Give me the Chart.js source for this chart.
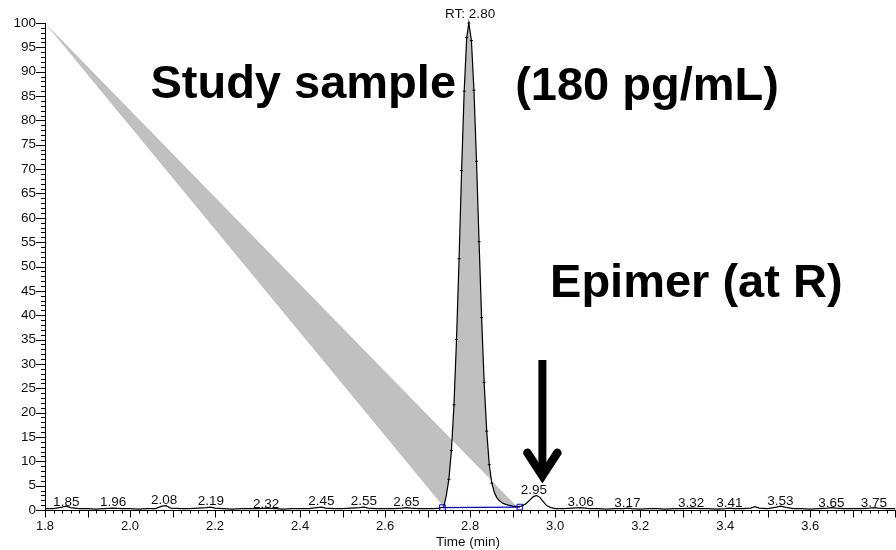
<!DOCTYPE html>
<html>
<head>
<meta charset="utf-8">
<script src="https://cdn.jsdelivr.net/npm/chart.js@4.4.1/dist/chart.umd.min.js"></script>
<style>
  html, body { margin: 0; padding: 0; background: #fff; }
  #wrap { width: 896px; height: 550px; }
</style>
</head>
<body>
<div id="wrap"><canvas id="chrom"></canvas></div>
<script>
// chromatogram trace, time (min) and relative abundance (%)
var times = [
    1.800, 1.820, 1.840, 1.850, 1.860, 1.880, 1.900, 1.920, 1.940, 1.960, 1.980,
    2.000, 2.020, 2.040, 2.060, 2.075, 2.085, 2.095, 2.120, 2.140, 2.160, 2.180,
    2.190, 2.200, 2.220, 2.240, 2.260, 2.280, 2.300, 2.320, 2.340, 2.360, 2.380,
    2.400, 2.420, 2.440, 2.450, 2.460, 2.480, 2.500, 2.520, 2.540, 2.550, 2.560,
    2.580, 2.600, 2.620, 2.640, 2.650, 2.660, 2.680, 2.700, 2.715, 2.727,
    2.738, 2.744, 2.750, 2.756, 2.762, 2.768, 2.774, 2.780, 2.786, 2.792, 2.797,
    2.803, 2.809, 2.815, 2.821, 2.827, 2.833, 2.839, 2.845, 2.851, 2.857, 2.863,
    2.869, 2.875, 2.882, 2.890, 2.900, 2.910, 2.920, 2.930, 2.940, 2.948, 2.956,
    2.964, 2.972, 2.980, 2.990, 3.000,
    3.020, 3.040, 3.060, 3.080, 3.100, 3.120, 3.140, 3.160, 3.170, 3.180, 3.200,
    3.220, 3.240, 3.260, 3.280, 3.300, 3.320, 3.340, 3.360, 3.380, 3.400, 3.410,
    3.420, 3.440, 3.460, 3.470, 3.480, 3.500, 3.520, 3.530, 3.540, 3.560, 3.580,
    3.600, 3.620, 3.640, 3.650, 3.660, 3.680, 3.700, 3.720, 3.740, 3.750, 3.760,
    3.780, 3.800
];
var intensity = [
    0.3, 0.3, 0.6, 0.8, 0.5, 0.3, 0.3, 0.2, 0.3, 0.4, 0.3,
    0.3, 0.2, 0.3, 0.3, 0.8, 0.9, 0.4, 0.3, 0.3, 0.4, 0.5,
    0.6, 0.4, 0.3, 0.2, 0.3, 0.3, 0.3, 0.4, 0.3, 0.2, 0.3,
    0.3, 0.3, 0.5, 0.6, 0.4, 0.3, 0.3, 0.4, 0.5, 0.6, 0.4,
    0.3, 0.3, 0.3, 0.4, 0.5, 0.4, 0.3, 0.3, 0.3, 0.4,
    0.6, 3.0, 6.3, 12.2, 21.6, 35.0, 51.6, 69.7, 86.0, 97.0, 100.0,
    96.4, 86.2, 71.6, 55.1, 39.5, 26.2, 16.2, 9.3, 5.5, 3.6, 2.5,
    1.9, 1.5, 1.2, 1.0, 0.8, 0.7, 0.8, 1.2, 2.0, 2.7, 3.0,
    2.6, 1.7, 0.9, 0.5, 0.3,
    0.3, 0.4, 0.5, 0.3, 0.3, 0.2, 0.3, 0.3, 0.4, 0.3, 0.2,
    0.3, 0.3, 0.2, 0.3, 0.3, 0.4, 0.3, 0.3, 0.2, 0.3, 0.4,
    0.3, 0.3, 0.4, 0.7, 0.4, 0.3, 0.6, 0.8, 0.6, 0.3, 0.3,
    0.2, 0.3, 0.4, 0.5, 0.4, 0.3, 0.3, 0.3, 0.4, 0.5, 0.4,
    0.3, 0.3
];

// integration of the main peak (start / end of the blue baseline)
var baseTimes = [2.735, 2.917];
var baseLevels = [0.5, 0.6];
// odd fill corner the software left at the start of the window
var fillAnchor = [1.8, 100];

// labelled peaks
var peakTimes  = [1.85, 1.96, 2.08, 2.19, 2.32, 2.45, 2.55, 2.65, 2.80, 2.95, 3.06, 3.17, 3.32, 3.41, 3.53, 3.65, 3.75];
var peakLevels = [0.0, -0.1, 0.4, 0.1, -0.4, 0.1, 0.1, 0.0, 100.2, 2.5, -0.1, -0.3, -0.2, -0.2, 0.3, -0.2, -0.2];
var peakTexts  = ["1.85", "1.96", "2.08", "2.19", "2.32", "2.45", "2.55", "2.65", "RT: 2.80", "2.95",
                  "3.06", "3.17", "3.32", "3.41", "3.53", "3.65", "3.75"];

// slide annotations: text, time, level of the baseline
var noteTexts  = ["Study sample", "(180 pg/mL)", "Epimer (at R)"];
var noteTimes  = [2.048, 2.906, 2.988];
var noteLevels = [84.7, 84.2, 43.7];
// arrow pointing at the epimer
var arrowTime = 2.970;
var arrowFrom = 30.8;
var arrowTo = 6.0;

var trace = times.map(function (t, i) { return {x: t, y: intensity[i]}; });
var peakFill = [{x: fillAnchor[0], y: fillAnchor[1]}].concat(trace.filter(function (p) {
    return p.x >= baseTimes[0] && p.x <= baseTimes[1];
}));
var baseline = baseTimes.map(function (t, i) { return {x: t, y: baseLevels[i]}; });

var FONT = "'Liberation Sans', Arial, sans-serif";

var decor = {
    id: "decor",
    afterDatasetsDraw: function (chart) {
        var ctx = chart.ctx;
        var xs = chart.scales.x, ys = chart.scales.y;
        var area = chart.chartArea;
        ctx.save();
        ctx.strokeStyle = "#000";
        ctx.lineWidth = 1;
        ctx.beginPath();
        // x axis line runs to the canvas edge
        var by = Math.round(area.bottom) + 0.5;
        ctx.moveTo(area.left, by);
        ctx.lineTo(chart.width, by);
        // y minor ticks
        for (var v = 0; v <= 100; v++) {
            var py = Math.round(ys.getPixelForValue(v)) + 0.5;
            var len = v % 5 === 0 ? 9 : 4;
            ctx.moveTo(area.left - len, py);
            ctx.lineTo(area.left, py);
        }
        // x minor ticks
        for (var k = 0; k <= 100; k++) {
            var px = Math.round(xs.getPixelForValue(1.8 + k * 0.02)) + 0.5;
            var l = k % 5 === 0 ? 7 : 3;
            ctx.moveTo(px, by);
            ctx.lineTo(px, by + l);
        }
        ctx.stroke();

        // peak labels
        ctx.fillStyle = "#111";
        ctx.font = "13.5px " + FONT;
        ctx.textAlign = "center";
        ctx.textBaseline = "bottom";
        peakTimes.forEach(function (t, i) {
            ctx.fillText(peakTexts[i], xs.getPixelForValue(t), ys.getPixelForValue(peakLevels[i]) - 1);
        });

        // big annotations
        ctx.fillStyle = "#000";
        ctx.font = "bold 47px " + FONT;
        ctx.textAlign = "left";
        ctx.textBaseline = "alphabetic";
        noteTexts.forEach(function (s, i) {
            ctx.fillText(s, xs.getPixelForValue(noteTimes[i]), ys.getPixelForValue(noteLevels[i]));
        });

        // arrow
        var ax = xs.getPixelForValue(arrowTime);
        var top = ys.getPixelForValue(arrowFrom);
        var tip = ys.getPixelForValue(arrowTo);
        ctx.lineWidth = 8;
        ctx.lineCap = "butt";
        ctx.beginPath();
        ctx.moveTo(ax, top);
        ctx.lineTo(ax, tip - 8);
        ctx.stroke();
        ctx.lineWidth = 8.5;
        ctx.lineCap = "round";
        ctx.lineJoin = "miter";
        ctx.beginPath();
        ctx.moveTo(ax - 15, tip - 28);
        ctx.lineTo(ax, tip - 5);
        ctx.lineTo(ax + 15, tip - 28);
        ctx.stroke();
        ctx.restore();
    }
};

var chart = new Chart(document.getElementById("chrom"), {
    type: "line",
    data: {
        datasets: [
            {
                data: trace,
                borderColor: "#000",
                borderWidth: 1.2,
                tension: 0,
                fill: false,
                clip: false,
                pointStyle: "line",
                pointRadius: function (c) { return c.raw && c.raw.y > 4 ? 1.5 : 0; },
                pointBorderColor: "#000",
                pointBorderWidth: 1
            },
            {
                data: baseline,
                borderColor: "#0000ff",
                borderWidth: 1.2,
                fill: false,
                pointStyle: "rect",
                pointRadius: 4,
                pointBorderColor: "#0000ff",
                pointBackgroundColor: "rgba(0,0,0,0)",
                pointBorderWidth: 1
            },
            {
                // the software's fill: triangle from the window corner plus the peak
                data: peakFill,
                borderColor: "rgba(0,0,0,0)",
                backgroundColor: "#c0c0c0",
                fill: "shape",
                tension: 0,
                pointRadius: 0
            }
        ]
    },
    options: {
        responsive: true,
        maintainAspectRatio: false,
        animation: false,
        layout: { padding: { top: 23, right: 0, left: 0, bottom: 0 } },
        plugins: {
            legend: { display: false },
            tooltip: { enabled: false }
        },
        scales: {
            x: {
                type: "linear",
                min: 1.8,
                max: 3.79,
                afterFit: function (s) {
                    s.height = 40;
                    s.paddingRight = 0;
                    s.paddingLeft = 0;
                },
                grid: { display: false },
                border: { display: false },
                ticks: {
                    stepSize: 0.2,
                    autoSkip: false,
                    maxRotation: 0,
                    padding: 1,
                    color: "#111",
                    font: { family: FONT, size: 13 },
                    callback: function (v) { return v < 3.7 ? v.toFixed(1) : ""; }
                },
                title: {
                    display: true,
                    text: "Time (min)",
                    color: "#111",
                    font: { family: FONT, size: 13.5 },
                    padding: { top: 0, bottom: 0 }
                }
            },
            y: {
                min: 0,
                max: 100,
                afterFit: function (s) { s.width = 45; },
                grid: { display: false },
                border: { display: true, color: "#000", width: 1 },
                ticks: {
                    stepSize: 5,
                    padding: 1,
                    color: "#111",
                    font: { family: FONT, size: 13.5 }
                }
            }
        }
    },
    plugins: [decor]
});
</script>
</body>
</html>
